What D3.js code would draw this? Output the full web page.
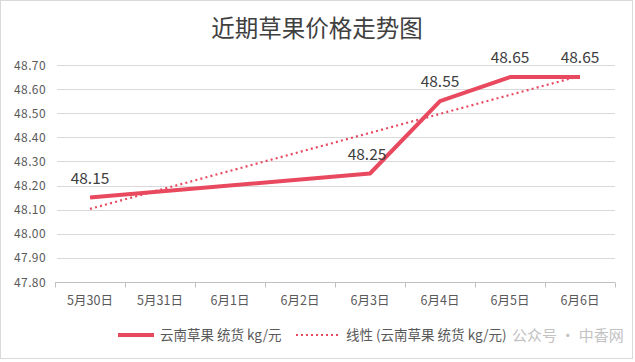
<!DOCTYPE html>
<html>
<head>
<meta charset="utf-8">
<script src="https://cdn.jsdelivr.net/npm/d3@7"></script>
<style>
  body { margin: 0; background: #fff; }
  text { font-family: "Noto Sans CJK SC", "Noto Sans", sans-serif; }
</style>
</head>
<body>
<div id="chart"></div>
<script>
const WIDTH = 635;
const HEIGHT = 362;

const categories = ['5月30日', '5月31日', '6月1日', '6月2日', '6月3日', '6月4日', '6月5日', '6月6日'];
// null = no price that day, the line joins across the gap
const prices = [48.15, null, null, null, 48.25, 48.55, 48.65, 48.65];
const yTicks = [47.8, 47.9, 48.0, 48.1, 48.2, 48.3, 48.4, 48.5, 48.6, 48.7];

const seriesName = '云南草果 统货 kg/元';
const trendName = '线性 (云南草果 统货 kg/元)';
const RED = '#e8495f';

const svg = d3.select('#chart').append('svg')
  .attr('width', WIDTH)
  .attr('height', HEIGHT);

svg.append('rect')
  .attr('x', 0.5).attr('y', 0.5)
  .attr('width', 632).attr('height', 358)
  .attr('fill', '#fff')
  .attr('stroke', '#d9d9d9');

svg.append('text')
  .attr('x', 317).attr('y', 37)
  .attr('text-anchor', 'middle')
  .attr('font-size', 23.5)
  .attr('fill', '#404040')
  .text('近期草果价格走势图');

const xScale = d3.scaleBand()
  .domain(categories)
  .range([55, 615]);

const yScale = d3.scaleLinear()
  .domain([47.8, 48.7])
  .range([282, 65]);

// gridlines
svg.append('g')
  .selectAll('line')
  .data(yTicks.slice(1))
  .enter()
  .append('line')
  .attr('x1', 57).attr('x2', 615)
  .attr('y1', d => Math.round(yScale(d)) + 0.5)
  .attr('y2', d => Math.round(yScale(d)) + 0.5)
  .attr('stroke', '#d9d9d9');

// y labels
svg.append('g')
  .selectAll('text')
  .data(yTicks)
  .enter()
  .append('text')
  .attr('x', 46)
  .attr('y', d => yScale(d) + 4.5)
  .attr('text-anchor', 'end')
  .attr('font-size', 12)
  .attr('letter-spacing', 0.4)
  .attr('fill', '#595959')
  .text(d => d.toFixed(2));

// x axis
const xAxis = svg.append('g')
  .attr('transform', `translate(0,${Math.round(yScale(47.8)) + 0.5})`);
xAxis.append('line')
  .attr('x1', 55).attr('x2', 615)
  .attr('stroke', '#bfbfbf');
xAxis.selectAll('line.tick')
  .data(categories.concat(['end']))
  .enter()
  .append('line')
  .attr('class', 'tick')
  .attr('x1', (d, i) => Math.round(xScale.range()[0] + i * xScale.bandwidth()) + 0.5)
  .attr('x2', (d, i) => Math.round(xScale.range()[0] + i * xScale.bandwidth()) + 0.5)
  .attr('y1', 0).attr('y2', 5)
  .attr('stroke', '#bfbfbf');
xAxis.selectAll('text')
  .data(categories)
  .enter()
  .append('text')
  .attr('x', d => xScale(d) + xScale.bandwidth() / 2)
  .attr('y', 22)
  .attr('text-anchor', 'middle')
  .attr('font-size', 12.5)
  .attr('fill', '#595959')
  .text(d => d);

const cx = d => xScale(d) + xScale.bandwidth() / 2;
const points = categories
  .map((c, i) => ({ c, i, v: prices[i] }))
  .filter(d => d.v !== null);

// linear trend (least squares over the known points)
const mx = d3.mean(points, d => d.i);
const my = d3.mean(points, d => d.v);
const slope = d3.sum(points, d => (d.i - mx) * (d.v - my)) / d3.sum(points, d => (d.i - mx) ** 2);
const trendAt = i => my + slope * (i - mx);
const first = points[0];
const last = points[points.length - 1];

svg.append('line')
  .attr('x1', cx(first.c)).attr('y1', yScale(trendAt(first.i)))
  .attr('x2', cx(last.c)).attr('y2', yScale(trendAt(last.i)))
  .attr('stroke', RED)
  .attr('stroke-width', 2.2)
  .attr('stroke-dasharray', '2,3.2');

const line = d3.line()
  .x(d => cx(d.c))
  .y(d => yScale(d.v));

svg.append('path')
  .datum(points)
  .attr('d', line)
  .attr('fill', 'none')
  .attr('stroke', RED)
  .attr('stroke-width', 4)
  .attr('stroke-linejoin', 'round');

// data labels
svg.append('g')
  .selectAll('text')
  .data(points)
  .enter()
  .append('text')
  .attr('x', d => cx(d.c) - (d.i === 4 ? 3 : 0))
  .attr('y', d => yScale(d.v) - 14)
  .attr('text-anchor', 'middle')
  .attr('font-size', 15.5)
  .attr('fill', '#404040')
  .text(d => d.v.toFixed(2));

// legend
const legend = svg.append('g').attr('transform', 'translate(0,335)');
legend.append('line')
  .attr('x1', 118).attr('x2', 154)
  .attr('stroke', RED).attr('stroke-width', 4);
legend.append('text')
  .attr('x', 160).attr('y', 5)
  .attr('font-size', 13.5).attr('fill', '#595959')
  .text(seriesName);
legend.append('line')
  .attr('x1', 296).attr('x2', 338)
  .attr('stroke', RED).attr('stroke-width', 2)
  .attr('stroke-dasharray', '2,3');
legend.append('text')
  .attr('x', 346).attr('y', 5)
  .attr('font-size', 13.5).attr('fill', '#595959')
  .text(trendName);

// watermark
legend.append('text')
  .attr('x', 512).attr('y', 6)
  .attr('font-size', 15).attr('fill', '#b8b8b8').attr('opacity', 0.85)
  .text('公众号 · 中香网');
</script>
</body>
</html>
